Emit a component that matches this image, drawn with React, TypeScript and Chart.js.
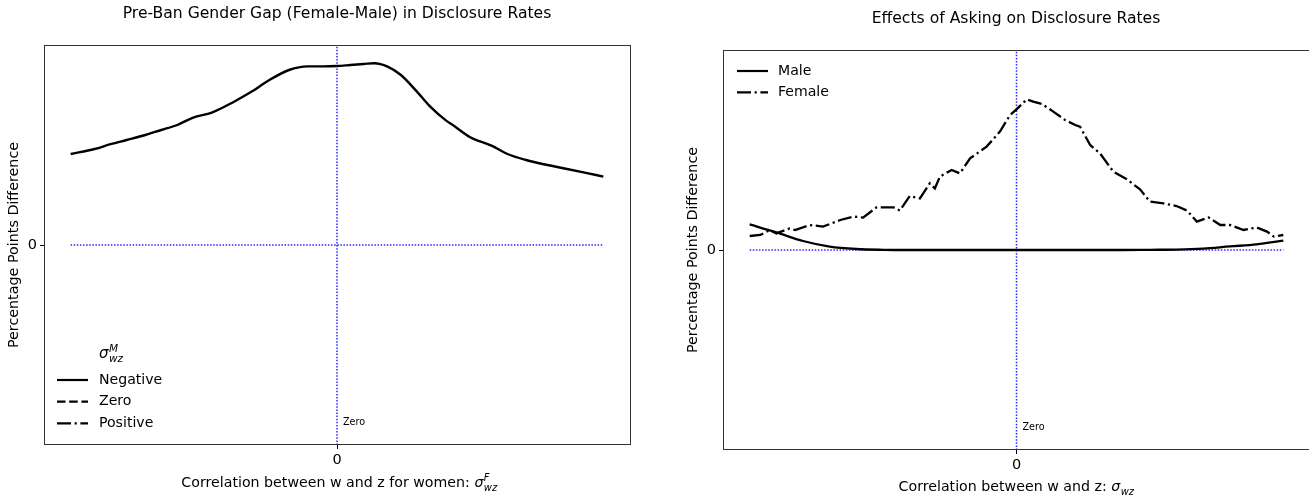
import React, { useEffect, useRef } from 'react';
import { Chart, registerables } from 'chart.js';

Chart.register(...registerables);

const FAMILY = 'DejaVu Sans';

// ---------- Left chart: Pre-Ban gender gap ----------
const gapX = [-1.0, -0.91, -0.85, -0.79, -0.72, -0.66, -0.6, -0.54, -0.47, -0.39, -0.32, -0.26, -0.18, -0.11, -0.05, 0.0, 0.05, 0.1, 0.14, 0.19, 0.24, 0.3, 0.35, 0.41, 0.44, 0.5, 0.58, 0.64, 0.71, 0.79, 0.85, 0.93, 1.0];
const gapNegative = [4.55, 4.8, 5.04, 5.25, 5.5, 5.75, 6.0, 6.37, 6.62, 7.14, 7.67, 8.2, 8.75, 8.93, 8.93, 8.95, 9.0, 9.05, 9.09, 8.92, 8.5, 7.67, 6.92, 6.22, 5.95, 5.39, 4.97, 4.55, 4.25, 4.0, 3.84, 3.62, 3.42];
const gapLegendLabels = ['Negative', 'Zero', 'Positive'];

// ---------- Right chart: effects of asking ----------
const femaleX = [-1.0, -0.96, -0.925, -0.9, -0.85, -0.83, -0.775, -0.725, -0.66, -0.61, -0.575, -0.525, -0.46, -0.437, -0.4, -0.362, -0.325, -0.306, -0.287, -0.243, -0.212, -0.174, -0.112, -0.062, -0.024, 0.0, 0.038, 0.063, 0.095, 0.138, 0.182, 0.22, 0.238, 0.276, 0.313, 0.363, 0.414, 0.463, 0.5, 0.551, 0.6, 0.639, 0.676, 0.72, 0.764, 0.8, 0.851, 0.9, 0.939, 0.964, 1.0];
const femaleEffect = [0.7, 0.75, 1.0, 0.83, 1.08, 1.0, 1.25, 1.17, 1.5, 1.67, 1.62, 2.13, 2.13, 1.97, 2.7, 2.58, 3.33, 3.08, 3.67, 4.0, 3.83, 4.58, 5.17, 5.92, 6.75, 7.03, 7.53, 7.42, 7.3, 6.92, 6.5, 6.25, 6.17, 5.25, 4.83, 3.92, 3.53, 3.03, 2.42, 2.33, 2.2, 1.97, 1.42, 1.63, 1.25, 1.25, 1.0, 1.13, 0.92, 0.67, 0.75];
const maleX = [-1.0, -0.9, -0.8, -0.7, -0.6, -0.5, -0.4, -0.2, 0.0, 0.2, 0.4, 0.5, 0.6, 0.7, 0.8, 0.9, 1.0];
const maleEffect = [1.28, 0.88, 0.45, 0.17, 0.05, 0.01, 0.0, 0.0, 0.0, 0.0, 0.0, 0.01, 0.02, 0.07, 0.18, 0.28, 0.47];
const askLegendLabels = ['Male', 'Female'];

// ---------- Reference lines & ticks ----------
const zeroLineX = [-1, 1];
const zeroLineY = [0, 0];
const vLineX = [0, 0];
const vLineY = [-10, 10];
const xTickValues = [0];
const yTickValues = [0];
const xLimits = [-1.1, 1.1];
const yLimits = [-10, 10];

const DASHED = [8.5, 3.7];
const DASHDOT = [14, 3.6, 2.2, 3.6];
const BLUE = 'rgba(0,0,255,0.85)';

const pts = (xs: number[], ys: number[]) => xs.map((x, i) => ({ x, y: ys[i] }));

function drawSigma(
  ctx: CanvasRenderingContext2D,
  prefix: string,
  sup: string,
  sub: string,
  x: number,
  y: number,
  size: number,
  align: 'center' | 'left'
) {
  const base = `${size}px ${FAMILY}`;
  const it = `italic ${size}px ${FAMILY}`;
  const small = `italic ${(size * 0.7).toFixed(1)}px ${FAMILY}`;
  ctx.font = base;
  const wp = prefix ? ctx.measureText(prefix).width : 0;
  ctx.font = it;
  const ws = ctx.measureText('σ').width;
  ctx.font = small;
  const wsup = sup ? ctx.measureText(sup).width : 0;
  const wsub = sub ? ctx.measureText(sub).width : 0;
  const total = wp + ws + Math.max(wsup, wsub);
  const x0 = align === 'center' ? x - total / 2 : x;
  const baseY = y + size * 0.36;
  ctx.textAlign = 'left';
  ctx.textBaseline = 'alphabetic';
  ctx.fillStyle = '#000';
  if (prefix) {
    ctx.font = base;
    ctx.fillText(prefix, x0, baseY);
  }
  ctx.font = it;
  ctx.fillText('σ', x0 + wp, baseY);
  ctx.font = small;
  if (sup) ctx.fillText(sup, x0 + wp + ws + 0.5, baseY - size * 0.45);
  if (sub) ctx.fillText(sub, x0 + wp + ws + 0.5, baseY + size * 0.24);
}

function text(ctx: CanvasRenderingContext2D, s: string, x: number, y: number, size: number, align: CanvasTextAlign = 'left') {
  ctx.font = `${size}px ${FAMILY}`;
  ctx.fillStyle = '#000';
  ctx.textAlign = align;
  ctx.textBaseline = 'middle';
  ctx.fillText(s, x, y);
}

function legendLine(ctx: CanvasRenderingContext2D, x1: number, x2: number, y: number, dash: number[]) {
  ctx.save();
  ctx.strokeStyle = '#000';
  ctx.lineWidth = 2.2;
  ctx.setLineDash(dash);
  ctx.beginPath();
  ctx.moveTo(x1, y);
  ctx.lineTo(x2, y);
  ctx.stroke();
  ctx.restore();
}

function frame(ctx: CanvasRenderingContext2D, a: { left: number; top: number; right: number; bottom: number }) {
  ctx.save();
  ctx.strokeStyle = '#333';
  ctx.lineWidth = 1;
  ctx.setLineDash([]);
  ctx.strokeRect(Math.round(a.left) + 0.5, Math.round(a.top) + 0.5, Math.round(a.right - a.left), Math.round(a.bottom - a.top) - 1);
  ctx.restore();
}

function yLabel(ctx: CanvasRenderingContext2D, s: string, x: number, y: number, size: number) {
  ctx.save();
  ctx.translate(x, y);
  ctx.rotate(-Math.PI / 2);
  text(ctx, s, 0, 0, size, 'center');
  ctx.restore();
}

function scales(yWidth: number) {
  const tickFont = { family: FAMILY, size: 14.5 };
  return {
    x: {
      type: 'linear' as const,
      min: xLimits[0],
      max: xLimits[1],
      afterBuildTicks: (s: any) => {
        s.ticks = xTickValues.map((v) => ({ value: v }));
      },
      afterFit: (s: any) => {
        s.height = 30;
      },
      grid: { display: true, drawOnChartArea: false, drawTicks: true, tickLength: 4, color: '#000', lineWidth: 1 },
      border: { display: false },
      ticks: { color: '#000', font: tickFont, padding: 3, maxRotation: 0, autoSkip: false, callback: (v: any) => String(v) },
    },
    y: {
      type: 'linear' as const,
      min: yLimits[0],
      max: yLimits[1],
      afterBuildTicks: (s: any) => {
        s.ticks = yTickValues.map((v) => ({ value: v }));
      },
      afterFit: (s: any) => {
        s.width = yWidth;
      },
      grid: { display: true, drawOnChartArea: false, drawTicks: true, tickLength: 4, color: '#000', lineWidth: 1 },
      border: { display: false },
      ticks: { color: '#000', font: tickFont, padding: 3, autoSkip: false, callback: (v: any) => String(v) },
    },
  };
}

function refDatasets() {
  return [
    { data: pts(zeroLineX, zeroLineY), borderColor: BLUE, borderWidth: 1.5, borderDash: [1.5, 1.6], pointRadius: 0, fill: false },
    { data: pts(vLineX, vLineY), borderColor: BLUE, borderWidth: 1.5, borderDash: [1.5, 1.6], pointRadius: 0, fill: false },
  ];
}

export default function App() {
  const leftRef = useRef<HTMLCanvasElement>(null);
  const rightRef = useRef<HTMLCanvasElement>(null);

  useEffect(() => {
    document.body.style.margin = '0';

    const leftDecor = {
      id: 'leftDecor',
      afterDraw(chart: any) {
        const ctx = chart.ctx as CanvasRenderingContext2D;
        const a = chart.chartArea;
        frame(ctx, a);
        text(ctx, 'Pre-Ban Gender Gap (Female-Male) in Disclosure Rates', 337, 14, 15.6, 'center');
        yLabel(ctx, 'Percentage Points Difference', 14, 245, 14.3);
        drawSigma(ctx, 'Correlation between w and z for women: ', 'F', 'wz', 339, 482, 14.2, 'center');
        // legend
        drawSigma(ctx, '', 'M', 'wz', 99, 353, 15, 'left');
        const dashes = [[], DASHED, DASHDOT];
        const ys = [380, 401.7, 423.3];
        gapLegendLabels.forEach((lab, i) => {
          legendLine(ctx, 57, 88, ys[i], dashes[i]);
          text(ctx, lab, 99, ys[i], 14.1);
        });
        text(ctx, 'Zero', a.left + (a.right - a.left) / 2 + 6, 422.5, 9.6);
      },
    };

    const rightDecor = {
      id: 'rightDecor',
      afterDraw(chart: any) {
        const ctx = chart.ctx as CanvasRenderingContext2D;
        const a = chart.chartArea;
        frame(ctx, a);
        text(ctx, 'Effects of Asking on Disclosure Rates', 356, 18.5, 15.6, 'center');
        yLabel(ctx, 'Percentage Points Difference', 33, 250, 14.3);
        drawSigma(ctx, 'Correlation between w and z: ', '', 'wz', 356, 486, 14.2, 'center');
        const dashes = [[], DASHDOT];
        const ys = [71, 92.3];
        askLegendLabels.forEach((lab, i) => {
          legendLine(ctx, 77, 108, ys[i], dashes[i]);
          text(ctx, lab, 118, ys[i], 14.1);
        });
        text(ctx, 'Zero', a.left + (a.right - a.left) / 2 + 6, 427, 9.6);
      },
    };

    const common = {
      responsive: false,
      maintainAspectRatio: false,
      devicePixelRatio: 1,
      animation: false as const,
      plugins: { legend: { display: false }, tooltip: { enabled: false }, title: { display: false } },
    };

    const c1 = new Chart(leftRef.current as HTMLCanvasElement, {
      type: 'line',
      data: {
        datasets: [
          {
            label: gapLegendLabels[0],
            data: pts(gapX, gapNegative),
            borderColor: '#000',
            borderWidth: 2.4,
            pointRadius: 0,
            cubicInterpolationMode: 'monotone',
            fill: false,
          },
          ...refDatasets(),
        ] as any,
      },
      options: {
        ...common,
        layout: { padding: { left: 0, right: 30, top: 45, bottom: 23 } },
        scales: scales(44),
      } as any,
      plugins: [leftDecor],
    });

    const c2 = new Chart(rightRef.current as HTMLCanvasElement, {
      type: 'line',
      data: {
        datasets: [
          {
            label: askLegendLabels[0],
            data: pts(maleX, maleEffect),
            borderColor: '#000',
            borderWidth: 2.3,
            pointRadius: 0,
            cubicInterpolationMode: 'monotone',
            fill: false,
          },
          {
            label: askLegendLabels[1],
            data: pts(femaleX, femaleEffect),
            borderColor: '#000',
            borderWidth: 2.3,
            borderDash: DASHDOT,
            pointRadius: 0,
            tension: 0,
            fill: false,
          },
          ...refDatasets(),
        ] as any,
      },
      options: {
        ...common,
        layout: { padding: { left: 0, right: 10, top: 50, bottom: 18 } },
        scales: scales(63),
      } as any,
      plugins: [rightDecor],
    });

    return () => {
      c1.destroy();
      c2.destroy();
    };
  }, []);

  return (
    <div style={{ position: 'relative', width: 1309, height: 498, overflow: 'hidden', background: '#fff' }}>
      <canvas ref={leftRef} width={660} height={498} style={{ position: 'absolute', left: 0, top: 0, width: 660, height: 498 }} />
      <canvas ref={rightRef} width={660} height={498} style={{ position: 'absolute', left: 660, top: 0, width: 660, height: 498 }} />
    </div>
  );
}
